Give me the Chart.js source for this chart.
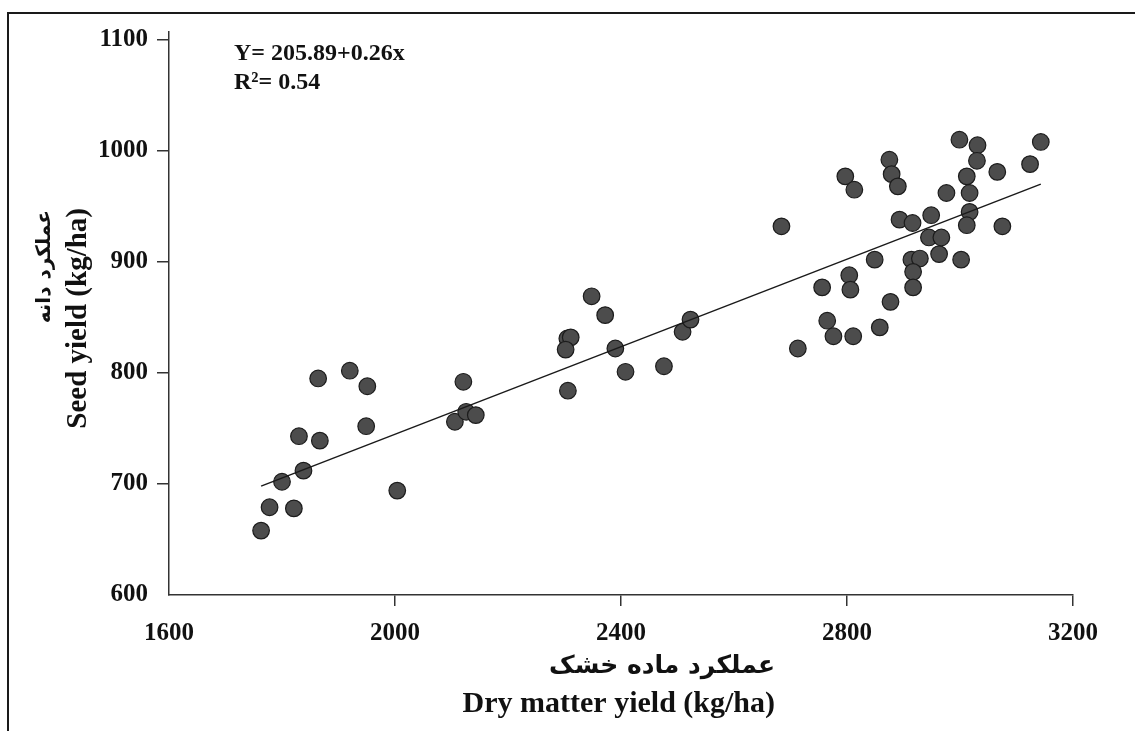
<!DOCTYPE html>
<html>
<head>
<meta charset="utf-8">
<script src="https://cdn.jsdelivr.net/npm/chart.js@4.4.1/dist/chart.umd.min.js"></script>
<style>
    body { margin: 0; background: #fff; }
    canvas { display: block; }
</style>
</head>
<body>
<canvas id="chart" width="1135" height="731"></canvas>
<script>
// dry matter yield (kg/ha) vs seed yield (kg/ha)
const dryMatter = [
    1763, 1778, 1800, 1821, 1838, 1830, 1867, 1864, 1920, 1951, 1949, 2004,
    2106, 2126, 2143, 2121, 2348, 2372, 2305, 2311, 2302, 2306, 2390, 2408,
    2476, 2509, 2523, 2756, 2765, 2776, 2713, 2684, 2797, 2813, 2875, 2879,
    2890, 2999, 3031, 3030, 3143, 3124, 3066, 3012, 3017, 2976, 3017, 3012,
    2949, 2893, 2916, 3075, 2945, 2967, 2963, 3002, 2914, 2929, 2917, 2917,
    2849, 2804, 2806, 2877, 2858, 2811
];
const seedYield = [
    658, 679, 702, 678, 712, 743, 739, 795, 802, 788, 752, 694,
    756, 765, 762, 792, 869, 852, 831, 832, 821, 784, 822, 801,
    806, 837, 848, 877, 847, 833, 822, 932, 977, 965, 992, 979,
    968, 1010, 1005, 991, 1008, 988, 981, 977, 962, 962, 945, 933,
    942, 938, 935, 932, 922, 922, 907, 902, 902, 903, 891, 877,
    902, 888, 875, 864, 841, 833
];

// fitted line as drawn
const fitX = [1763, 3143];
const fitY = [698, 970];

const xTicks = [1600, 2000, 2400, 2800, 3200];
const yTicks = [600, 700, 800, 900, 1000, 1100];

const equation = 'Y= 205.89+0.26x';
const rSquared = 'R\u00B2= 0.54';
const xTitleFa = 'عملکرد ماده خشک';
const xTitleEn = 'Dry matter yield (kg/ha)';
const yTitleFa = 'عملکرد دانه';
const yTitleEn = 'Seed yield (kg/ha)';

const serif = '"Liberation Serif", "Times New Roman", serif';
const farsi = '"DejaVu Sans", "Noto Sans", sans-serif';

const textPlugin = {
    id: 'texts',
    beforeDraw(chart) {
        const ctx = chart.ctx;
        ctx.save();
        // outer frame (top and left only)
        ctx.strokeStyle = '#1a1a1a';
        ctx.lineWidth = 2;
        ctx.beginPath();
        ctx.moveTo(8, 731);
        ctx.lineTo(8, 13);
        ctx.lineTo(1135, 13);
        ctx.stroke();
        ctx.restore();
    },
    afterDraw(chart) {
        const ctx = chart.ctx;
        ctx.save();
        ctx.fillStyle = '#111';
        ctx.textBaseline = 'middle';

        ctx.textAlign = 'left';
        ctx.font = 'bold 24px ' + serif;
        ctx.fillText(equation, 234, 54);
        ctx.fillText(rSquared, 234, 83);

        // x axis titles, right aligned
        ctx.textAlign = 'right';
        ctx.font = 'bold 25px ' + farsi;
        ctx.fillText(xTitleFa, 775, 666);
        ctx.font = 'bold 30px ' + serif;
        ctx.fillText(xTitleEn, 775, 704);

        // y axis titles, rotated
        ctx.save();
        ctx.translate(45, 210);
        ctx.rotate(-Math.PI / 2);
        ctx.font = 'bold 20px ' + farsi;
        ctx.fillText(yTitleFa, 0, 0);
        ctx.restore();

        ctx.save();
        ctx.translate(79, 208);
        ctx.rotate(-Math.PI / 2);
        ctx.font = 'bold 29px ' + serif;
        ctx.fillText(yTitleEn, 0, 0);
        ctx.restore();

        ctx.restore();
    }
};

const tickColor = c => c.index === 0 ? 'rgba(0,0,0,0)' : '#333';

new Chart(document.getElementById('chart'), {
    type: 'scatter',
    data: {
        datasets: [
            {
                type: 'line',
                data: fitX.map((x, i) => ({ x: x, y: fitY[i] })),
                borderColor: '#1a1a1a',
                borderWidth: 1.5,
                pointRadius: 0,
                fill: false,
                order: -1
            },
            {
                data: dryMatter.map((x, i) => ({ x: x, y: seedYield[i] })),
                backgroundColor: '#4c4c4c',
                borderColor: '#1c1c1c',
                borderWidth: 1.2,
                pointRadius: 8.3,
                pointHoverRadius: 8.3
            }
        ]
    },
    options: {
        responsive: false,
        animation: false,
        devicePixelRatio: 1,
        layout: { padding: { left: 0, top: 32, right: 62, bottom: 0 } },
        plugins: {
            legend: { display: false },
            tooltip: { enabled: false }
        },
        scales: {
            x: {
                type: 'linear',
                min: 1600,
                max: 3200,
                afterBuildTicks: s => { s.ticks = xTicks.map(v => ({ value: v })); },
                afterFit: s => { s.height = 731 - 595; },
                grid: { drawOnChartArea: false, drawTicks: true, tickLength: 11, color: tickColor, lineWidth: 1.5 },
                border: { color: '#333', width: 1.5 },
                ticks: {
                    color: '#111',
                    padding: 13,
                    maxRotation: 0,
                    callback: v => String(v),
                    font: { family: serif, size: 25, weight: 'bold' }
                }
            },
            y: {
                type: 'linear',
                min: 600,
                max: 1107,
                afterBuildTicks: s => { s.ticks = yTicks.map(v => ({ value: v })); },
                afterFit: s => { s.width = 169; },
                grid: { drawOnChartArea: false, drawTicks: true, tickLength: 12, color: tickColor, lineWidth: 1.5 },
                border: { color: '#333', width: 1.5 },
                ticks: {
                    color: '#111',
                    padding: 9,
                    callback: v => String(v),
                    font: { family: serif, size: 25, weight: 'bold' }
                }
            }
        }
    },
    plugins: [textPlugin]
});
</script>
</body>
</html>
